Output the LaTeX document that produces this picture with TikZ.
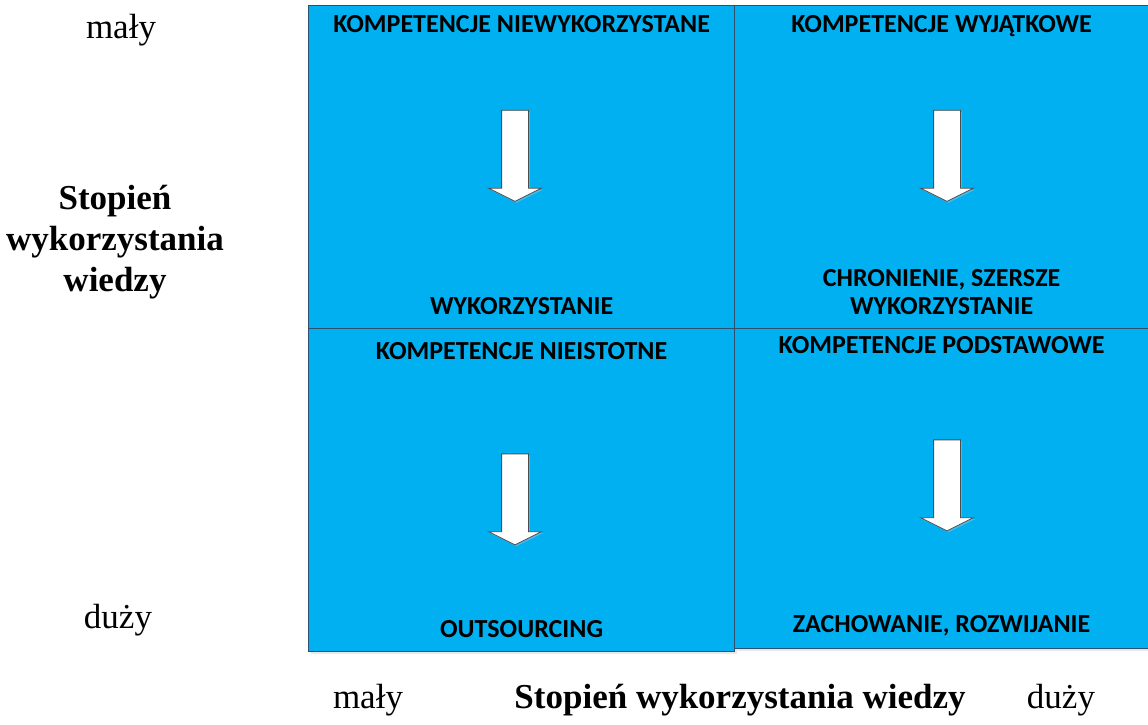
\documentclass[tikz,border=0pt]{standalone}
\usepackage{fontspec}
\setmainfont{Liberation Serif}
\newfontfamily\calibfont{Carlito}
\usetikzlibrary{positioning, shapes.arrows, shadows}

\begin{document}
\begin{tikzpicture}[
    x=1pt, y=-1pt,
    quad/.style = {rectangle, draw=edgeblue, line width=1.2pt, fill=quadblue, anchor=north west, inner sep=0pt, drop shadow={shadow xshift=2pt, shadow yshift=-2.5pt, fill=black!18}},
    caption/.style = {font=\calibfont\bfseries\fontsize{26}{28}\selectfont, align=center, inner sep=0pt},
    axis/.style = {font=\fontsize{35}{41}\selectfont, align=center, inner sep=0pt},
    axisbold/.style = {axis, font=\fontsize{35}{41}\selectfont\bfseries},
    flow/.style = {single arrow, shape border rotate=270, draw=black!70, line width=0.8pt, fill=white, inner sep=13pt, minimum height=91pt, single arrow head extend=13pt, single arrow tip angle=127, drop shadow={shadow xshift=1.5pt, shadow yshift=-1.5pt, fill=shadowblue}}
]
    % Colors definition
    \definecolor{quadblue}{RGB}{0, 176, 240}
    \definecolor{edgeblue}{RGB}{45, 80, 110}
    \definecolor{shadowblue}{RGB}{140, 200, 235}

    \useasboundingbox (0,0) rectangle (1148,724);

    % Quadrants
    \node (tl) [quad, minimum width=426pt, minimum height=323pt] at (308,5) {};
    \node (tr) [quad, minimum width=414pt, minimum height=323pt] at (734,5) {};
    \node (bl) [quad, minimum width=426pt, minimum height=323pt] at (308,328) {};
    \node (br) [quad, minimum width=414pt, minimum height=320pt] at (734,328) {};

    % Quadrant captions
    \node (tltitle) [caption, below=10pt of tl.north] {KOMPETENCJE NIEWYKORZYSTANE};
    \node (tlbottom) [caption, above=14pt of tl.south] {WYKORZYSTANIE};
    \node (trtitle) [caption, below=10pt of tr.north] {KOMPETENCJE WYJĄTKOWE};
    \node (trbottom) [caption, above=14pt of tr.south] {CHRONIENIE, SZERSZE\\WYKORZYSTANIE};
    \node (bltitle) [caption, below=14pt of bl.north] {KOMPETENCJE NIEISTOTNE};
    \node (blbottom) [caption, above=14pt of bl.south] {OUTSOURCING};
    \node (brtitle) [caption, below=8pt of br.north] {KOMPETENCJE PODSTAWOWE};
    \node (brbottom) [caption, above=13pt of br.south] {ZACHOWANIE, ROZWIJANIE};

    % Arrows
    \node (tlarrow) [flow] at (515,152.5) {};
    \node (trarrow) [flow] at (947,152.5) {};
    \node (blarrow) [flow] at (515,496) {};
    \node (brarrow) [flow] at (947,482) {};

    % Axis labels
    \node (vsmall) [axis] at (121,30) {mały};
    \node (vname) [axisbold] at (115,242) {Stopień\\wykorzystania\\wiedzy};
    \node (vlarge) [axis] at (118,620) {duży};
    \node (hsmall) [axis] at (368,700) {mały};
    \node (hname) [axisbold] at (740,700) {Stopień wykorzystania wiedzy};
    \node (hlarge) [axis] at (1061,700) {duży};

\end{tikzpicture}
\end{document}
